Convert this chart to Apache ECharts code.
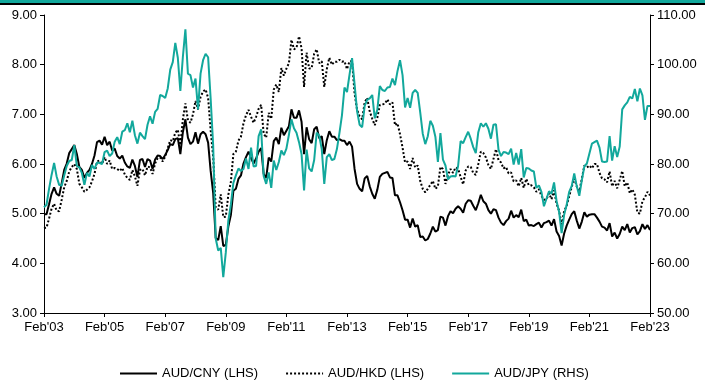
<!DOCTYPE html>
<html>
<head>
<meta charset="utf-8">
<script src="https://cdn.jsdelivr.net/npm/echarts@6/dist/echarts.min.js"></script>
<style>
  html, body { margin: 0; padding: 0; background: #fff; }
  #chart { width: 705px; height: 383px; }
</style>
</head>
<body>
<div id="chart"></div>
<script>
// Month-end exchange rates, Feb 2003 to Feb 2023
const audCny = [
  4.99, 4.99, 5.19, 5.40, 5.53, 5.40, 5.36, 5.61, 5.88, 6.01, 6.22,
  6.30, 6.38, 6.20, 5.94, 5.88, 5.72, 5.82, 5.88, 6.00, 6.17, 6.44, 6.47,
  6.39, 6.55, 6.38, 6.45, 6.27, 6.31, 6.16, 6.11, 6.17, 6.03, 5.95, 5.92,
  6.09, 5.96, 5.74, 6.08, 6.10, 5.94, 6.10, 6.07, 5.90, 6.09, 6.17, 6.16,
  6.10, 6.18, 6.28, 6.40, 6.38, 6.50, 6.52, 6.20, 6.64, 6.90, 6.53, 6.40,
  6.45, 6.64, 6.41, 6.60, 6.65, 6.60, 6.43, 5.86, 5.42, 4.51, 4.47, 4.75,
  4.35, 4.37, 4.74, 4.97, 5.46, 5.50, 5.70, 5.77, 6.01, 6.14, 6.25, 6.12,
  6.01, 6.11, 6.25, 6.32, 5.80, 5.72, 6.13, 6.05, 6.46, 6.53, 6.40, 6.73,
  6.58, 6.67, 6.76, 7.10, 6.93, 6.93, 7.08, 6.85, 6.20, 6.74, 6.50, 6.42,
  6.70, 6.75, 6.52, 6.56, 6.20, 6.48, 6.66, 6.55, 6.55, 6.48, 6.50, 6.47,
  6.47, 6.38, 6.45, 6.35, 5.90, 5.60, 5.50, 5.45, 5.71, 5.76, 5.55, 5.40,
  5.30, 5.48, 5.74, 5.80, 5.82, 5.84, 5.73, 5.72, 5.37, 5.37, 5.23, 5.07,
  4.88, 4.88, 4.72, 4.90, 4.74, 4.77, 4.53, 4.54, 4.46, 4.49, 4.60, 4.74,
  4.64, 4.67, 4.94, 4.92, 4.76, 4.95, 5.05, 5.01, 5.10, 5.15, 5.10, 5.02,
  5.20, 5.27, 5.26, 5.16, 5.07, 5.21, 5.38, 5.25, 5.20, 5.07, 5.00, 5.09,
  5.07, 4.92, 4.82, 4.77, 4.85, 4.90, 5.06, 4.92, 4.97, 4.93, 5.08, 4.85,
  4.88, 4.76, 4.77, 4.75, 4.79, 4.82, 4.72, 4.81, 4.83, 4.86, 4.76, 4.89,
  4.64, 4.55, 4.36, 4.60, 4.76, 4.88, 4.99, 5.05, 4.86, 4.70, 4.84, 5.03,
  4.94, 4.98, 4.99, 4.99, 4.92, 4.84, 4.74, 4.72, 4.66, 4.81, 4.54, 4.62,
  4.50, 4.59, 4.74, 4.67, 4.79, 4.62, 4.71, 4.73, 4.58, 4.65, 4.79, 4.69,
  4.77, 4.67
];

const audHkd = [
  4.71, 4.72, 4.90, 5.10, 5.20, 5.06, 5.05, 5.28, 5.53, 5.66, 5.85,
  5.94, 6.00, 5.90, 5.60, 5.53, 5.44, 5.48, 5.53, 5.65, 5.80, 6.05, 6.07,
  6.00, 6.14, 6.00, 6.07, 5.90, 5.92, 5.90, 5.86, 5.92, 5.79, 5.72, 5.68,
  5.88, 5.75, 5.56, 5.88, 5.90, 5.77, 5.95, 5.93, 5.80, 6.01, 6.12, 6.13,
  6.05, 6.15, 6.32, 6.48, 6.46, 6.63, 6.69, 6.38, 6.90, 7.22, 6.88, 6.83,
  7.00, 7.27, 7.10, 7.35, 7.46, 7.50, 7.33, 6.68, 6.14, 5.12, 5.08, 5.39,
  4.93, 4.94, 5.38, 5.64, 6.20, 6.25, 6.47, 6.55, 6.82, 6.98, 7.09, 6.95,
  6.83, 6.95, 7.11, 7.19, 6.61, 6.53, 7.03, 6.91, 7.50, 7.60, 7.45, 7.93,
  7.78, 7.92, 8.03, 8.50, 8.31, 8.34, 8.57, 8.33, 7.55, 8.24, 7.92, 7.93,
  8.22, 8.31, 8.03, 8.07, 7.55, 7.91, 8.14, 8.00, 8.06, 8.06, 8.10, 8.06,
  8.07, 7.91, 8.07, 8.07, 7.42, 7.09, 6.96, 6.90, 7.24, 7.33, 7.06, 6.91,
  6.78, 6.93, 7.19, 7.20, 7.21, 7.30, 7.20, 7.24, 6.78, 6.82, 6.60, 6.33,
  6.03, 6.05, 5.90, 6.12, 5.93, 5.97, 5.66, 5.50, 5.43, 5.50, 5.58, 5.66,
  5.50, 5.55, 5.94, 5.90, 5.60, 5.78, 5.90, 5.82, 5.93, 5.90, 5.74, 5.59,
  5.87, 5.95, 5.94, 5.82, 5.78, 6.00, 6.25, 6.22, 6.13, 5.98, 5.90, 6.10,
  6.30, 6.08, 6.03, 5.91, 5.94, 5.81, 5.83, 5.65, 5.67, 5.55, 5.72, 5.52,
  5.70, 5.57, 5.57, 5.53, 5.44, 5.49, 5.36, 5.28, 5.29, 5.41, 5.29, 5.47,
  5.20, 5.06, 4.78, 5.05, 5.16, 5.35, 5.54, 5.71, 5.55, 5.45, 5.70, 5.97,
  5.93, 5.97, 5.91, 6.00, 6.00, 5.82, 5.71, 5.69, 5.63, 5.85, 5.55, 5.66,
  5.51, 5.68, 5.86, 5.55, 5.63, 5.41, 5.49, 5.38, 5.02, 5.00, 5.25, 5.33,
  5.44, 5.37
];

const audJpy = [
  71.3, 71.8, 75.0, 77.8, 80.2, 77.5, 75.8, 75.6, 77.7, 79.6, 80.6,
  80.8, 83.8, 79.6, 79.3, 78.2, 75.8, 78.2, 77.5, 79.8, 79.0, 80.3, 80.2,
  80.0, 82.4, 82.7, 81.6, 82.1, 84.5, 85.4, 84.0, 86.5, 86.8, 88.2, 86.4,
  88.7, 85.8, 84.1, 86.3, 85.6, 85.0, 87.9, 89.6, 88.1, 90.5, 91.1, 93.9,
  93.7, 93.3, 95.2, 99.0, 100.5, 104.4, 101.4, 94.7, 101.6, 107.1, 98.2, 97.9,
  95.4, 97.2, 91.0, 98.2, 100.9, 102.2, 101.5, 93.2, 83.7, 65.0, 62.6, 63.1,
  57.2, 62.2, 68.6, 71.8, 76.2, 77.7, 79.1, 78.6, 79.0, 81.1, 79.0, 83.3,
  79.5, 79.6, 85.6, 87.0, 77.6, 76.0, 78.3, 75.2, 80.7, 78.8, 80.4, 82.7,
  81.8, 83.1, 85.9, 89.0, 87.2, 86.3, 84.4, 82.0, 74.7, 82.9, 79.1, 78.5,
  80.8, 86.3, 85.7, 83.0, 76.0, 81.4, 82.0, 80.8, 81.0, 83.0, 86.2, 89.8,
  95.4, 94.5, 98.0, 101.3, 96.1, 90.6, 87.9, 87.4, 91.7, 92.9, 93.2, 93.9,
  89.2, 90.9, 95.7, 94.9, 94.7, 95.4, 95.5, 97.2, 95.9, 98.7, 100.9, 97.9,
  91.4, 93.3, 91.3, 94.3, 94.9, 94.3, 90.4, 86.1, 84.0, 85.6, 88.7, 87.7,
  85.5, 80.4, 86.2, 80.9, 79.7, 76.9, 77.5, 77.6, 77.5, 79.6, 84.6, 84.2,
  85.4, 86.5, 85.1, 83.4, 82.2, 86.4, 88.2, 87.5, 88.2, 87.1, 85.1, 87.9,
  88.0, 82.9, 81.6, 82.4, 82.3, 82.0, 83.1, 79.9, 82.2, 79.9, 83.0, 77.3,
  79.2, 79.1, 78.7, 78.5, 75.2, 75.7, 74.4, 71.5, 73.0, 74.5, 74.0, 76.3,
  72.5, 70.4, 66.1, 69.8, 71.8, 74.4, 75.6, 78.1, 75.5, 73.6, 76.7, 79.5,
  80.1, 82.1, 84.1, 84.4, 84.7, 83.3, 80.5, 80.4, 80.5, 85.6, 80.7, 83.6,
  81.4, 83.5, 91.0, 91.8, 92.4, 93.5, 93.2, 95.1, 92.6, 95.2, 93.8, 88.9,
  91.7, 91.7
];

const seriesNames = ['AUD/CNY (LHS)', 'AUD/HKD (LHS)', 'AUD/JPY (RHS)'];
const monthNames = ['Jan', 'Feb', 'Mar', 'Apr', 'May', 'Jun', 'Jul', 'Aug', 'Sep', 'Oct', 'Nov', 'Dec'];

// Category axis: one entry per month, Feb'03 .. Feb'23
const months = [];
for (let i = 0; i < audCny.length; i++) {
  const m = (1 + i) % 12;
  const y = 2003 + Math.floor((1 + i) / 12);
  months.push(monthNames[m] + "'" + String(y).slice(2));
}

const TEAL = '#12a89c';
const FONT = 'Liberation Sans, Arial, sans-serif';
const everyTwoYears = (idx) => idx % 24 === 0;

const chart = echarts.init(document.getElementById('chart'), null, { renderer: 'canvas' });

chart.setOption({
  animation: false,
  backgroundColor: '#fff',
  textStyle: { fontFamily: FONT, color: '#000' },
  graphic: [
    { type: 'rect', shape: { x: 0, y: 0, width: 705, height: 3 }, style: { fill: TEAL }, silent: true },
    { type: 'rect', shape: { x: 0, y: 3, width: 705, height: 2 }, style: { fill: '#000' }, silent: true }
  ],
  grid: { left: 44, right: 55, top: 15, bottom: 70, containLabel: false },
  legend: {
    left: 114,
    top: 362,
    itemWidth: 37,
    itemHeight: 14,
    itemGap: 27,
    itemStyle: { opacity: 0 },
    textStyle: { fontFamily: FONT, fontSize: 13, color: '#000' },
    data: seriesNames
  },
  xAxis: {
    type: 'category',
    data: months,
    boundaryGap: false,
    axisLine: { lineStyle: { color: '#000', width: 1 } },
    axisTick: { show: true, interval: everyTwoYears, length: 4, lineStyle: { color: '#000' } },
    axisLabel: { interval: everyTwoYears, fontSize: 13, color: '#000', margin: 8, fontFamily: FONT },
    splitLine: { show: false }
  },
  yAxis: [
    {
      type: 'value', min: 3, max: 9, interval: 1, position: 'left',
      axisLine: { show: true, lineStyle: { color: '#000', width: 1 } },
      axisTick: { show: true, length: 4, lineStyle: { color: '#000' } },
      axisLabel: { formatter: (v) => v.toFixed(2), fontSize: 13, color: '#000', margin: 7, fontFamily: FONT },
      splitLine: { show: false }
    },
    {
      type: 'value', min: 50, max: 110, interval: 10, position: 'right',
      axisLine: { show: true, lineStyle: { color: '#000', width: 1 } },
      axisTick: { show: true, length: 4, lineStyle: { color: '#000' } },
      axisLabel: { formatter: (v) => v.toFixed(2), fontSize: 13, color: '#000', margin: 7, fontFamily: FONT },
      splitLine: { show: false }
    }
  ],
  series: [
    {
      name: seriesNames[0], type: 'line', yAxisIndex: 0, data: audCny,
      symbol: 'none', showSymbol: false,
      itemStyle: { color: '#000' },
      lineStyle: { color: '#000', width: 2 }
    },
    {
      name: seriesNames[1], type: 'line', yAxisIndex: 0, data: audHkd,
      symbol: 'none', showSymbol: false,
      itemStyle: { color: '#000' },
      lineStyle: { color: '#000', width: 2, type: [2, 2] }
    },
    {
      name: seriesNames[2], type: 'line', yAxisIndex: 1, data: audJpy,
      symbol: 'none', showSymbol: false,
      itemStyle: { color: TEAL },
      lineStyle: { color: TEAL, width: 2 }
    }
  ]
});
</script>
</body>
</html>
